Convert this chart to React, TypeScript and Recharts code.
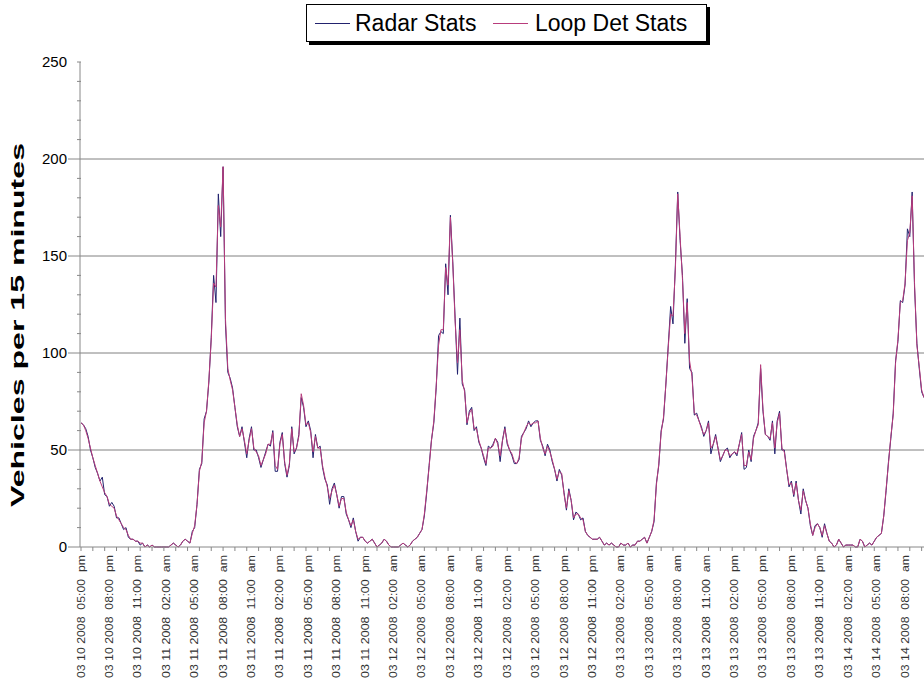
import { LineChart, Line, XAxis, YAxis, ReferenceLine, Legend } from "recharts";

// 15 minute slots starting 03/10/2008 05:00 pm, one tick label every 3 hours (12 slots)
const tickLabels = [
  "03 10 2008  05:00  pm", "03 10 2008  08:00  pm", "03 10 2008  11:00  pm",
  "03 11 2008  02:00  am", "03 11 2008  05:00  am", "03 11 2008  08:00  am",
  "03 11 2008  11:00  am", "03 11 2008  02:00  pm", "03 11 2008  05:00  pm",
  "03 11 2008  08:00  pm", "03 11 2008  11:00  pm", "03 12 2008  02:00  am",
  "03 12 2008  05:00  am", "03 12 2008  08:00  am", "03 12 2008  11:00  am",
  "03 12 2008  02:00  pm", "03 12 2008  05:00  pm", "03 12 2008  08:00  pm",
  "03 12 2008  11:00  pm", "03 13 2008  02:00  am", "03 13 2008  05:00  am",
  "03 13 2008  08:00  am", "03 13 2008  11:00  am", "03 13 2008  02:00  pm",
  "03 13 2008  05:00  pm", "03 13 2008  08:00  pm", "03 13 2008  11:00  pm",
  "03 14 2008  02:00  am", "03 14 2008  05:00  am", "03 14 2008  08:00  am",
];

const radar = [
  64, 63, 61, 57, 50, 46, 41, 38, 34, 36,
  27, 26, 21, 23, 21, 15, 15, 12, 9, 10,
  5, 4, 4, 3, 3, 1, 2, 0, 1, 0,
  1, 0, 0, 0, 0, 0, 0, 0, 1, 2,
  1, 0, 1, 3, 4, 3, 2, 8, 10, 22,
  40, 43, 66, 70, 85, 108, 140, 126, 182, 160,
  196, 115, 90, 87, 82, 72, 62, 57, 62, 54,
  46, 56, 62, 50, 50, 46, 41, 45, 49, 53,
  52, 60, 39, 39, 54, 59, 43, 36, 42, 62,
  48, 51, 58, 77, 72, 62, 65, 60, 46, 58,
  51, 52, 41, 35, 32, 22, 30, 33, 27, 20,
  26, 26, 17, 14, 10, 15, 8, 3, 5, 5,
  3, 2, 3, 4, 2, 0, 1, 2, 4, 3,
  1, 0, 0, 0, 0, 1, 2, 1, 0, 1,
  3, 4, 5, 7, 9, 16, 28, 42, 55, 64,
  82, 109, 111, 110, 146, 130, 171, 147, 118, 89,
  118, 84, 81, 63, 70, 72, 60, 62, 54, 51,
  46, 42, 52, 51, 53, 56, 54, 44, 55, 62,
  53, 50, 47, 43, 43, 45, 57, 59, 61, 65,
  62, 64, 65, 65, 55, 52, 47, 53, 50, 44,
  40, 34, 40, 37, 28, 19, 30, 24, 14, 18,
  17, 14, 15, 8, 6, 5, 4, 4, 4, 5,
  3, 1, 2, 1, 2, 1, 0, 0, 2, 1,
  1, 2, 0, 1, 1, 3, 3, 4, 5, 2,
  5, 8, 13, 33, 42, 60, 66, 84, 104, 124,
  115, 145, 183, 158, 140, 105, 128, 92, 90, 68,
  69, 65, 62, 57, 60, 65, 48, 53, 58, 51,
  44, 47, 50, 51, 46, 48, 49, 47, 53, 59,
  40, 41, 50, 44, 57, 60, 64, 92, 70, 58,
  57, 55, 65, 48, 65, 70, 50, 50, 40, 31,
  34, 26, 34, 24, 17, 30, 24, 20, 11, 6,
  11, 12, 10, 5, 12, 7, 3, 2, 0, 1,
  4, 2, 0, 1, 1, 1, 1, 0, 0, 4,
  3, 0, 1, 2, 1, 3, 5, 6, 7, 16,
  29, 44, 56, 69, 96, 106, 127, 126, 135, 164,
  160, 183, 134, 105, 92, 80, 77,
];

const loopDet = [
  64, 63, 60, 56, 51, 46, 42, 38, 34, 31,
  28, 26, 22, 21, 20, 16, 14, 12, 10, 9,
  6, 4, 4, 3, 3, 2, 2, 0, 1, 0,
  1, 0, 0, 0, 0, 0, 0, 0, 1, 2,
  1, 0, 1, 3, 4, 3, 2, 7, 11, 22,
  39, 44, 64, 70, 86, 107, 136, 134, 176, 165,
  196, 118, 92, 86, 81, 72, 63, 57, 61, 55,
  48, 55, 61, 51, 49, 47, 42, 45, 48, 53,
  53, 59, 42, 40, 53, 58, 44, 37, 43, 61,
  49, 51, 57, 79, 73, 63, 64, 59, 49, 57,
  51, 51, 42, 36, 31, 25, 29, 32, 27, 21,
  25, 25, 18, 14, 11, 14, 8, 4, 5, 5,
  3, 2, 3, 4, 2, 0, 1, 2, 4, 3,
  1, 0, 0, 0, 0, 1, 2, 1, 0, 1,
  3, 4, 5, 7, 9, 17, 29, 41, 55, 65,
  83, 104, 112, 112, 144, 135, 170, 146, 116, 95,
  112, 86, 80, 64, 69, 71, 61, 61, 55, 51,
  47, 43, 51, 51, 52, 56, 53, 47, 55, 61,
  54, 50, 48, 44, 43, 46, 56, 59, 62, 64,
  63, 64, 64, 65, 56, 51, 48, 52, 49, 45,
  40, 35, 39, 38, 27, 20, 29, 24, 15, 17,
  17, 15, 14, 8, 6, 5, 4, 4, 4, 5,
  3, 1, 2, 1, 2, 1, 0, 0, 2, 1,
  1, 2, 0, 1, 1, 3, 3, 4, 5, 2,
  5, 8, 14, 32, 43, 59, 67, 84, 103, 120,
  119, 143, 182, 160, 138, 110, 126, 96, 88, 69,
  68, 65, 61, 58, 60, 64, 51, 53, 57, 51,
  45, 47, 50, 50, 47, 48, 49, 48, 53, 58,
  42, 42, 49, 45, 56, 60, 63, 94, 71, 58,
  57, 56, 64, 51, 64, 69, 51, 49, 40, 32,
  33, 27, 33, 24, 19, 29, 24, 20, 12, 6,
  10, 12, 10, 6, 11, 7, 3, 2, 0, 1,
  4, 2, 0, 1, 1, 1, 1, 0, 0, 4,
  3, 0, 1, 2, 1, 3, 5, 6, 7, 16,
  30, 43, 57, 68, 95, 107, 126, 127, 136, 158,
  162, 181, 136, 104, 93, 81, 77,
];

const seriesNames = ["Radar Stats", "Loop Det Stats"];
const yTicks = [0, 10, 20, 30, 40, 50, 60, 70, 80, 90, 100, 110, 120, 130, 140, 150, 160, 170, 180, 190, 200, 210, 220, 230, 240, 250];
const gridValues = [50, 100, 150, 200];

const data = radar.map((v, i) => ({ slot: i, radar: v, loop: loopDet[i] }));

const FONT = "'Liberation Sans', Arial, sans-serif";
const AXIS = "#888";

function XTick({ x, y, payload }: any) {
  const i = payload.value as number;
  const hasTick = i % 5 === 0;
  const hasLabel = i % 12 === 0;
  if (!hasTick && !hasLabel) return <g />;
  return (
    <g>
      {hasTick && <line x1={x} x2={x} y1={y} y2={y + 4} stroke={AXIS} />}
      {hasLabel && (
        <text
          transform={`translate(${x},${y + 8}) rotate(-90)`}
          dy="0.35em"
          textAnchor="end"
          fontSize={10}
          fontFamily={FONT}
          fill="#333"
          textLength={123}
          lengthAdjust="spacingAndGlyphs"
          xmlSpace="preserve"
          style={{ whiteSpace: "pre" }}
        >
          {tickLabels[i / 12]}
        </text>
      )}
    </g>
  );
}

function YTick({ x, y, payload }: any) {
  const v = payload.value as number;
  const major = v % 50 === 0;
  return (
    <g>
      {major && v !== 250 ? (
        <line x1={x - 12} x2={x} y1={y} y2={y} stroke={AXIS} />
      ) : (
        <line x1={x - 3} x2={x + 1} y1={y} y2={y} stroke={AXIS} />
      )}
      {major && (
        <text x={x - 13} y={y} dy="0.35em" textAnchor="end" fontSize={15} fontFamily={FONT} fill="#000">
          {v}
        </text>
      )}
    </g>
  );
}

const renderYLabel = () => (
  <text
    transform="translate(24,325) rotate(-90)"
    textAnchor="middle"
    fontSize={18}
    fontWeight="bold"
    fontFamily={FONT}
    fill="#000"
    textLength={364}
    lengthAdjust="spacingAndGlyphs"
  >
    Vehicles per 15 minutes
  </text>
);

const textWidths = [138, 162];

function renderLegend({ payload }: any) {
  const items = seriesNames
    .map((n) => (payload || []).find((p: any) => p.value === n))
    .filter(Boolean);
  return (
    <div
      style={{
        boxSizing: "border-box",
        width: 401,
        height: 38,
        border: "1px solid #000",
        boxShadow: "3px 3px 0 #000",
        background: "#fff",
        display: "flex",
        alignItems: "center",
        paddingLeft: 8,
        fontFamily: FONT,
        fontSize: 23,
        color: "#000",
      }}
    >
      {items.map((entry: any, k: number) => (
        <div key={entry.value} style={{ display: "flex", alignItems: "center" }}>
          <span style={{ display: "inline-block", width: 35, borderTop: `1px solid ${entry.color}`, marginRight: k === 0 ? 5 : 7 }} />
          <span style={{ display: "inline-block", width: textWidths[k], whiteSpace: "nowrap" }}>{entry.value}</span>
        </div>
      ))}
    </div>
  );
}

export default function App() {
  return (
    <div style={{ position: "absolute", left: 0, top: 0, width: 924, height: 682, overflow: "hidden", background: "#fff" }}>
      <LineChart width={924} height={682} data={data} margin={{ top: 62, right: 0, bottom: 0, left: 0 }}>
        <XAxis
          dataKey="slot"
          type="category"
          height={135}
          interval={0}
          tickSize={0}
          tickMargin={0}
          padding={{ left: 1, right: 0 }}
          axisLine={{ stroke: AXIS }}
          tickLine={false}
          tick={<XTick />}
        />
        <YAxis
          type="number"
          domain={[0, 250]}
          ticks={yTicks}
          interval={0}
          width={80}
          tickSize={0}
          tickMargin={0}
          axisLine={{ stroke: AXIS }}
          tickLine={false}
          tick={<YTick />}
          label={renderYLabel}
        />
        {gridValues.map((g) => (
          <ReferenceLine key={g} y={g} stroke="#808080" strokeWidth={1} />
        ))}
        <Legend
          layout="horizontal"
          verticalAlign="middle"
          align="center"
          wrapperStyle={{ top: 4, left: 306, width: 401, height: 38 }}
          content={renderLegend}
        />
        <Line
          type="linear"
          dataKey="radar"
          name={seriesNames[0]}
          stroke="#22226e"
          strokeWidth={1}
          dot={false}
          isAnimationActive={false}
        />
        <Line
          type="linear"
          dataKey="loop"
          name={seriesNames[1]}
          stroke="#b83c7c"
          strokeWidth={1}
          dot={false}
          isAnimationActive={false}
        />
      </LineChart>
    </div>
  );
}
